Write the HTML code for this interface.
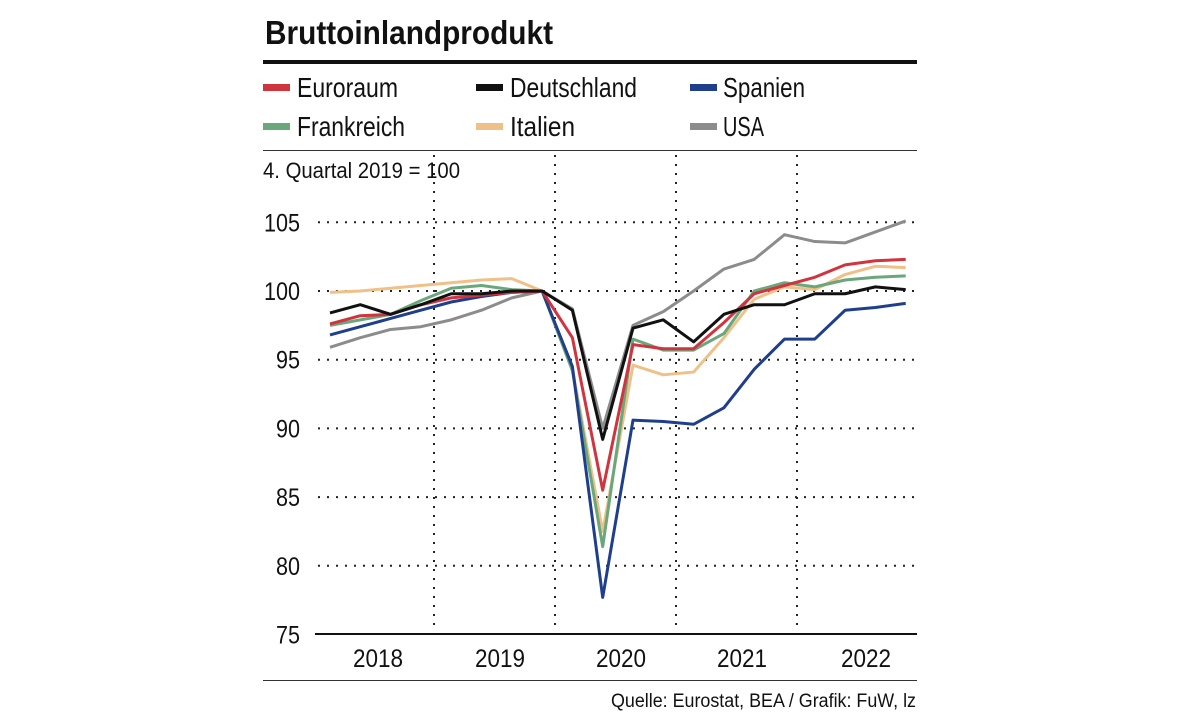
<!DOCTYPE html>
<html><head><meta charset="utf-8"><style>
body{margin:0;background:#fff;width:1179px;height:713px;overflow:hidden;font-family:"Liberation Sans",sans-serif;}
</style></head><body>
<svg id="s" width="1179" height="713" xmlns="http://www.w3.org/2000/svg" font-family="'Liberation Sans',sans-serif">
<text x="265" y="44" font-size="33" font-weight="bold" fill="#111" textLength="288" lengthAdjust="spacingAndGlyphs">Bruttoinlandprodukt</text>
<rect x="263" y="60" width="654" height="4" fill="#111"/>
<g font-size="28" fill="#111">
<rect x="263" y="84" width="27" height="7" fill="#d0353f"/><text x="297" y="97" textLength="101" lengthAdjust="spacingAndGlyphs">Euroraum</text>
<rect x="476" y="84" width="27" height="7" fill="#111"/><text x="510" y="97" textLength="127" lengthAdjust="spacingAndGlyphs">Deutschland</text>
<rect x="690" y="84" width="27" height="7" fill="#1f3f8c"/><text x="723" y="97" textLength="82" lengthAdjust="spacingAndGlyphs">Spanien</text>
<rect x="263" y="123" width="27" height="7" fill="#6aa77a"/><text x="297" y="136" textLength="108" lengthAdjust="spacingAndGlyphs">Frankreich</text>
<rect x="476" y="123" width="27" height="7" fill="#f0c089"/><text x="510" y="136" textLength="65" lengthAdjust="spacingAndGlyphs">Italien</text>
<rect x="690" y="123" width="27" height="7" fill="#8c8c8c"/><text x="723" y="136" textLength="41" lengthAdjust="spacingAndGlyphs">USA</text>
</g>
<rect x="263" y="150" width="654" height="1" fill="#333"/>
<text x="263" y="178" font-size="22" fill="#111" textLength="197" lengthAdjust="spacingAndGlyphs">4. Quartal 2019 = 100</text>
<g id="grid" stroke="#222" stroke-width="2" stroke-dasharray="2,7"></g>
<g font-size="25" fill="#111" text-anchor="end" id="yl"></g>
<rect x="315" y="633" width="602" height="2" fill="#111"/>
<g font-size="25" fill="#111" text-anchor="middle" id="xl"></g>
<g id="lines" fill="none" stroke-width="3" stroke-linejoin="round"></g>
<rect x="263" y="680" width="654" height="1" fill="#333"/>
<text x="916" y="707" font-size="19" fill="#111" text-anchor="end" textLength="305" lengthAdjust="spacingAndGlyphs">Quelle: Eurostat, BEA / Grafik: FuW, lz</text>
</svg>
<script>
var ns="http://www.w3.org/2000/svg";
function Y(v){return 291-(v-100)*13.74;}
function X(i){return 330+i*30.3;}
var g=document.getElementById('grid'),yl=document.getElementById('yl'),xl=document.getElementById('xl');
[105,100,95,90,85,80].forEach(function(v){var l=document.createElementNS(ns,'line');l.setAttribute('x1',318);l.setAttribute('x2',916);l.setAttribute('y1',Y(v));l.setAttribute('y2',Y(v));g.appendChild(l);});
[105,100,95,90,85,80,75].forEach(function(v){var t=document.createElementNS(ns,'text');t.setAttribute('x',300);t.setAttribute('y',Y(v)+9);t.setAttribute('textLength',v>=100?36:24);t.setAttribute('lengthAdjust','spacingAndGlyphs');t.textContent=v;yl.appendChild(t);});
[[378,2018],[500,2019],[621,2020],[742,2021],[866,2022]].forEach(function(a){var t=document.createElementNS(ns,'text');t.setAttribute('x',a[0]-25);t.setAttribute('y',667);t.setAttribute('text-anchor','start');t.setAttribute('textLength',50);t.setAttribute('lengthAdjust','spacingAndGlyphs');t.textContent=a[1];xl.appendChild(t);});
[434,555,676,797].forEach(function(x){var l=document.createElementNS(ns,'line');l.setAttribute('x1',x);l.setAttribute('x2',x);l.setAttribute('y1',155);l.setAttribute('y2',630);g.appendChild(l);});
var d=[
["#8c8c8c",[95.9,96.6,97.2,97.4,97.9,98.6,99.5,100,98.7,90.0,97.5,98.5,100.0,101.6,102.3,104.1,103.6,103.5,104.3,105.1]],
["#f0c089",[99.9,100.0,100.2,100.4,100.6,100.8,100.9,100,94.3,82.5,94.6,93.9,94.1,96.6,99.4,100.3,100.1,101.2,101.8,101.7]],
["#6aa77a",[97.5,97.9,98.3,99.3,100.2,100.4,100.1,100,94.2,81.4,96.5,95.7,95.7,96.9,100.0,100.6,100.3,100.8,101.0,101.1]],
["#1f3f8c",[96.8,97.4,98.0,98.6,99.2,99.6,99.9,100,94.5,77.7,90.6,90.5,90.3,91.5,94.3,96.5,96.5,98.6,98.8,99.1]],
["#d0353f",[97.6,98.2,98.3,99.0,99.5,99.7,99.9,100,96.6,85.5,96.1,95.8,95.8,97.7,99.8,100.4,101.0,101.9,102.2,102.3]],
["#111",[98.4,99.0,98.3,99.0,99.8,99.8,100.0,100,98.6,89.2,97.3,97.9,96.3,98.3,99.0,99.0,99.8,99.8,100.3,100.1]]];
var L=document.getElementById('lines');
d.forEach(function(s){var p=document.createElementNS(ns,'polyline');p.setAttribute('stroke',s[0]);p.setAttribute('points',s[1].map(function(v,i){return X(i)+','+Y(v);}).join(' '));L.appendChild(p);});
</script>
</body></html>
